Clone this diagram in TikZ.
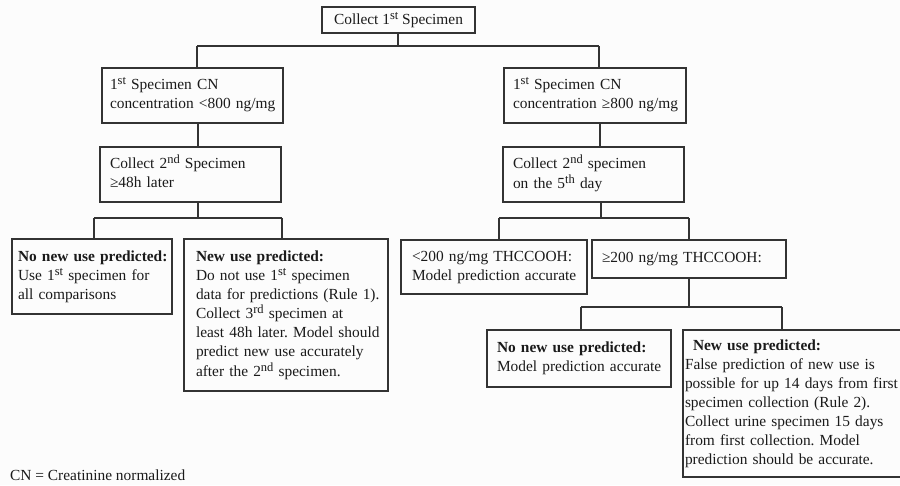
\documentclass[tikz,border=0pt]{standalone}
\usepackage{fontspec}
\setmainfont{Liberation Serif}
\definecolor{linec}{HTML}{333333}
\definecolor{txtc}{HTML}{1A1A1A}
\definecolor{bgc}{HTML}{FCFCFC}
\newcommand\mysup[1]{\raisebox{5pt}{\fontsize{12.5}{12.5}\selectfont #1}}
\newcommand\boxlines[2]{\hspace*{#1}\begin{tabular}{@{}l@{}}#2\end{tabular}}
\begin{document}
\begin{tikzpicture}[x=1pt,y=-1pt,
  box/.style={draw=linec, line width=1.1pt, text=txtc, align=left, inner xsep=0pt, inner ysep=2pt, font=\fontsize{15.4}{19}\selectfont\frenchspacing},
  conn/.style={draw=linec, line width=1.1pt}]
\useasboundingbox[fill=bgc] (0,0) rectangle (900,485);

\node[box, align=center, minimum width=153, minimum height=26] (top) at (398.5,20) {Collect 1\mysup{st} Specimen};
\node[box, text width=181, minimum height=55] (a) at (192.5,95.5) {\boxlines{8pt}{1\mysup{st} Specimen CN\\concentration <800 ng/mg}};
\node[box, text width=182, minimum height=55] (b) at (595,95.5) {\boxlines{9pt}{1\mysup{st} Specimen CN\\concentration ≥800 ng/mg}};
\node[box, text width=181, minimum height=55] (a2) at (190.5,174.5) {\boxlines{10pt}{Collect 2\mysup{nd} Specimen\\≥48h later}};
\node[box, text width=181, minimum height=55] (b2) at (593.5,174.5) {\boxlines{10pt}{Collect 2\mysup{nd} specimen\\on the 5\mysup{th} day}};
\node[box, text width=160, minimum height=75] (c1) at (92,276.5) {\boxlines{6pt}{\textbf{No new use predicted:}\\Use 1\mysup{st} specimen for\\all comparisons}};
\node[box, text width=204, minimum height=152] (c2) at (286,315) {\boxlines{12pt}{\textbf{New use predicted:}\\Do not use 1\mysup{st} specimen\\data for predictions (Rule 1).\\Collect 3\mysup{rd} specimen at\\least 48h later. Model should\\predict new use accurately\\after the 2\mysup{nd} specimen.}};
\node[box, text width=186, minimum height=54] (d1) at (494,267) {\boxlines{11pt}{<200 ng/mg THCCOOH:\\Model prediction accurate}};
\node[box, text width=194, minimum height=38] (d2) at (689,259) {\boxlines{10pt}{≥200 ng/mg THCCOOH:}};
\node[box, text width=184, minimum height=57] (e1) at (579,358.5) {\boxlines{10pt}{\textbf{No new use predicted:}\\Model prediction accurate}};
\node[box, text width=224, minimum height=147] (e2) at (795,403.5) {\boxlines{2pt}{\hspace*{8pt}\textbf{New use predicted:}\\False prediction of new use is\\possible for up 14 days from first\\specimen collection (Rule 2).\\Collect urine specimen 15 days\\from first collection. Model\\prediction should be accurate.}};

\node[anchor=west, inner sep=0pt, text=txtc, font=\fontsize{15.4}{19}\selectfont] (fn) at (10,475) {CN = Creatinine normalized};

% connectors
\coordinate (j0) at (398,46);
\coordinate (jL) at (197,46);
\coordinate (jR) at (599,46);
\draw[conn] (top.south -| j0) -- (j0);
\draw[conn] (jL) -- (jR);
\draw[conn] (jL) -- (jL |- a.north);
\draw[conn] (jR) -- (jR |- b.north);

\coordinate (xA) at (198,0);
\coordinate (xB) at (600,0);
\draw[conn] (a.south -| xA) -- (a2.north -| xA);
\draw[conn] (b.south -| xB) -- (b2.north -| xB);

\coordinate (kL) at (198,218);
\coordinate (kL1) at (94,218);
\coordinate (kL2) at (282,218);
\draw[conn] (a2.south -| kL) -- (kL);
\draw[conn] (kL1) -- (kL2);
\draw[conn] (kL1) -- (kL1 |- c1.north);
\draw[conn] (kL2) -- (kL2 |- c2.north);

\coordinate (kR) at (601,218);
\coordinate (kR1) at (499,218);
\coordinate (kR2) at (689,218);
\draw[conn] (b2.south -| kR) -- (kR);
\draw[conn] (kR1) -- (kR2);
\draw[conn] (kR1) -- (kR1 |- d1.north);
\draw[conn] (kR2) -- (kR2 |- d2.north);

\coordinate (m) at (689,307);
\coordinate (m1) at (581,307);
\coordinate (m2) at (782,307);
\draw[conn] (d2.south -| m) -- (m);
\draw[conn] (m1) -- (m2);
\draw[conn] (m1) -- (m1 |- e1.north);
\draw[conn] (m2) -- (m2 |- e2.north);
\end{tikzpicture}
\end{document}
